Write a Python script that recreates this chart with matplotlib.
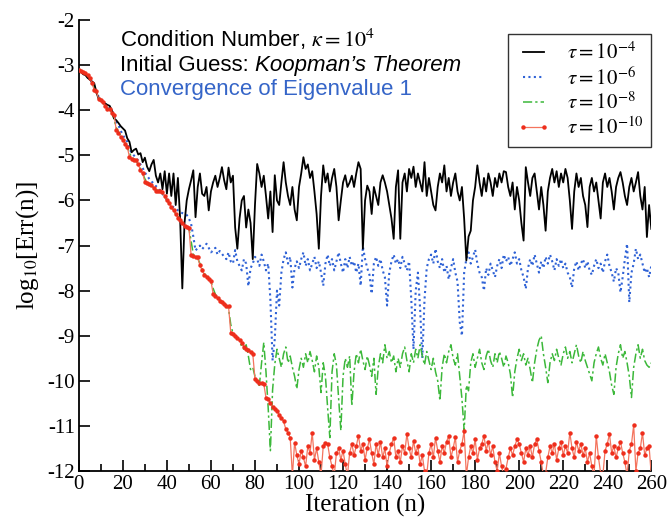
import numpy as np
import matplotlib
matplotlib.use("Agg")
import matplotlib.pyplot as plt
from matplotlib.ticker import MultipleLocator, FixedLocator

plt.rcParams['axes.unicode_minus'] = False
plt.rcParams['mathtext.fontset'] = 'stix'

# ---------------- data ----------------
tau_labels = [r'$\tau = 10^{-4}$', r'$\tau = 10^{-6}$', r'$\tau = 10^{-8}$', r'$\tau = 10^{-10}$']

err_tau4 = [
    -3.10,-3.15,-3.20,-3.22,-3.28,-3.32,-3.36,-3.40,-3.60,-3.75,
    -3.78,-3.82,-3.85,-3.88,-3.90,-4.00,-4.18,-4.22,-4.28,-4.35,
    -4.40,-4.45,-4.62,-4.70,-4.93,-4.88,-4.85,-4.98,-4.95,-5.15,
    -5.05,-5.25,-5.35,-5.20,-5.10,-5.45,-5.60,-5.40,-5.75,-5.35,
    -5.85,-5.40,-5.90,-5.40,-6.10,-5.50,-6.40,-7.95,-6.50,-6.00,
    -5.75,-5.55,-5.33,-6.37,-5.70,-5.40,-5.85,-5.90,-5.70,-6.22,
    -5.80,-5.60,-5.45,-5.70,-5.50,-5.26,-5.55,-5.75,-5.27,-5.60,
    -5.45,-6.60,-7.07,-6.40,-6.00,-5.90,-6.60,-6.20,-6.50,-7.30,
    -6.10,-5.19,-5.40,-5.70,-5.45,-5.90,-6.40,-5.80,-6.70,-5.44,
    -6.00,-6.10,-5.60,-5.15,-5.60,-5.90,-6.10,-5.70,-6.20,-6.44,
    -5.70,-5.40,-5.04,-5.30,-5.20,-5.50,-5.35,-5.80,-6.30,-7.07,
    -5.90,-5.22,-5.60,-5.40,-5.80,-5.50,-5.30,-5.70,-6.44,-6.00,
    -5.60,-5.44,-5.70,-5.60,-5.45,-5.70,-5.40,-5.15,-5.30,-7.07,
    -6.00,-5.67,-5.80,-6.30,-5.70,-5.90,-6.10,-5.60,-5.44,-5.60,
    -5.80,-6.10,-6.40,-6.85,-5.70,-5.33,-6.85,-5.60,-5.40,-5.80,
    -5.30,-5.50,-5.25,-5.70,-5.40,-5.60,-5.80,-5.15,-5.90,-5.50,
    -5.80,-6.10,-6.22,-5.70,-5.40,-5.60,-5.22,-5.80,-5.50,-5.90,
    -5.60,-5.40,-5.80,-6.00,-5.70,-6.40,-7.33,-6.80,-6.67,-6.00,
    -5.70,-5.22,-5.60,-5.90,-5.50,-5.80,-5.40,-5.60,-5.90,-5.50,
    -5.70,-5.40,-5.60,-5.35,-5.37,-5.70,-5.90,-5.60,-6.20,-5.70,
    -6.00,-6.50,-6.89,-5.26,-5.60,-5.90,-5.50,-5.40,-5.80,-6.20,
    -5.70,-6.10,-6.67,-5.80,-5.50,-5.30,-5.60,-5.35,-5.70,-5.40,
    -5.60,-5.30,-5.50,-6.00,-6.63,-5.80,-5.40,-5.70,-5.50,-5.90,
    -6.10,-6.59,-5.70,-5.50,-5.80,-5.60,-6.00,-6.40,-5.60,-5.40,
    -5.70,-5.50,-5.80,-6.20,-5.70,-5.50,-5.37,-5.60,-5.90,-6.10,
    -5.70,-5.50,-5.80,-5.60,-5.37,-5.90,-6.20,-5.70,-6.81,-6.10,
    -6.63,
]

err_tau6 = [
    -3.10,-3.14,-3.18,-3.22,-3.27,-3.32,-3.38,-3.48,-3.58,-3.70,
    -3.76,-3.82,-3.86,-3.90,-3.94,-4.00,-4.12,-4.25,-4.33,-4.45,
    -4.55,-4.62,-4.70,-4.85,-4.95,-5.00,-5.05,-5.12,-5.20,-5.28,
    -5.38,-5.45,-5.52,-5.58,-5.62,-5.68,-5.72,-5.78,-5.85,-5.92,
    -5.98,-6.04,-6.10,-6.15,-6.18,-6.22,-6.25,-6.28,-6.30,-6.32,
    -6.40,-6.52,-6.80,-7.11,-7.05,-7.00,-7.08,-7.02,-6.96,-7.05,
    -7.15,-7.11,-7.05,-7.20,-7.12,-7.18,-7.25,-7.30,-7.15,-7.35,
    -7.40,-7.10,-7.35,-7.45,-7.55,-7.30,-7.40,-7.90,-7.50,-7.40,
    -7.25,-7.30,-7.45,-7.20,-7.35,-7.55,-7.40,-8.20,-9.55,-9.07,
    -8.00,-8.33,-7.60,-7.30,-7.15,-7.40,-7.25,-7.93,-7.50,-7.35,
    -7.50,-7.30,-7.15,-7.45,-7.30,-7.55,-7.40,-7.25,-7.50,-7.35,
    -7.60,-7.89,-7.40,-7.20,-7.45,-7.30,-7.55,-7.35,-7.15,-7.40,
    -7.60,-7.30,-7.50,-7.25,-7.45,-7.35,-7.60,-7.40,-7.89,-7.02,
    -7.30,-7.50,-7.65,-8.07,-7.40,-7.25,-7.45,-7.30,-7.55,-7.70,
    -8.33,-7.60,-7.35,-7.20,-7.40,-7.30,-7.50,-7.25,-7.40,-7.55,
    -7.35,-8.20,-9.30,-8.00,-7.60,-8.40,-9.50,-8.20,-7.50,-7.30,
    -7.20,-7.40,-7.07,-7.35,-7.50,-7.30,-7.60,-7.45,-7.75,-7.50,
    -7.30,-7.60,-7.80,-8.70,-9.00,-7.60,-7.30,-7.15,-7.40,-7.25,
    -7.09,-7.40,-7.60,-7.70,-8.00,-7.50,-7.65,-7.40,-7.55,-7.70,
    -7.45,-7.30,-7.50,-7.20,-7.35,-7.25,-7.45,-7.30,-7.15,-7.40,
    -7.30,-7.55,-7.70,-7.96,-7.50,-7.30,-7.45,-7.20,-7.40,-7.60,
    -7.35,-7.50,-7.25,-7.40,-7.20,-7.35,-7.55,-7.30,-7.45,-7.30,
    -7.50,-7.40,-7.60,-7.70,-7.93,-7.50,-7.35,-7.55,-7.40,-7.30,
    -7.50,-7.35,-7.55,-7.65,-7.45,-7.30,-7.50,-7.40,-7.60,-7.35,
    -7.20,-7.45,-7.60,-7.80,-7.50,-7.60,-8.04,-7.70,-7.30,-6.96,
    -8.26,-7.60,-7.40,-7.07,-7.30,-7.20,-7.40,-7.60,-7.50,-7.70,
    -7.45,
]

err_tau8 = [
    -3.10,-3.13,-3.16,-3.20,-3.25,-3.30,-3.38,-3.50,-3.60,-3.70,
    -3.78,-3.84,-3.90,-3.95,-4.00,-4.05,-4.20,-4.38,-4.48,-4.56,
    -4.64,-4.72,-4.80,-4.95,-5.04,-5.08,-5.12,-5.20,-5.30,-5.40,
    -5.52,-5.60,-5.63,-5.66,-5.72,-5.76,-5.78,-5.80,-5.84,-5.92,
    -6.00,-6.06,-6.14,-6.22,-6.30,-6.36,-6.42,-6.48,-6.54,-6.58,
    -6.62,-6.90,-7.20,-7.24,-7.28,-7.40,-7.52,-7.62,-7.68,-7.73,
    -7.80,-7.95,-8.08,-8.15,-8.20,-8.24,-8.28,-8.32,-8.40,-8.75,
    -8.95,-9.00,-9.05,-9.10,-9.25,-9.30,-9.20,-9.45,-9.75,-9.70,
    -9.90,-10.05,-10.10,-9.60,-9.15,-9.80,-10.60,-11.55,-10.20,-9.63,
    -9.30,-9.50,-9.70,-9.40,-9.25,-9.60,-9.45,-9.70,-9.90,-10.18,
    -9.75,-9.50,-9.70,-9.40,-9.60,-9.35,-9.55,-9.80,-9.45,-9.70,
    -10.26,-9.60,-9.90,-10.60,-11.26,-9.80,-9.40,-9.65,-10.40,-11.10,
    -9.90,-9.50,-9.70,-9.45,-10.55,-9.80,-9.40,-9.60,-9.30,-9.55,
    -9.75,-9.45,-9.65,-9.90,-9.50,-10.30,-9.70,-9.40,-9.60,-9.20,
    -9.50,-9.35,-9.60,-9.45,-9.80,-9.50,-9.70,-9.40,-9.25,-9.55,
    -9.80,-9.40,-9.60,-9.30,-9.50,-9.20,-9.45,-9.65,-9.35,-9.55,
    -9.75,-9.50,-9.80,-10.00,-10.44,-9.70,-9.40,-9.60,-9.35,-9.20,
    -9.50,-9.65,-9.40,-9.90,-10.40,-11.10,-10.10,-10.22,-9.60,-9.40,
    -9.70,-9.50,-9.30,-9.60,-9.75,-9.45,-9.30,-9.55,-9.70,-9.40,
    -9.60,-9.35,-9.50,-9.70,-9.45,-9.60,-9.85,-10.37,-9.80,-9.50,
    -9.30,-9.55,-9.40,-9.65,-9.50,-9.75,-10.04,-9.60,-9.30,-9.10,
    -9.00,-9.40,-9.70,-10.04,-9.60,-9.40,-9.55,-9.30,-9.50,-9.65,
    -9.40,-9.25,-9.50,-9.35,-9.60,-9.40,-9.20,-9.45,-9.60,-9.35,
    -9.55,-9.70,-9.85,-10.00,-9.60,-9.40,-9.25,-9.50,-9.65,-9.40,
    -9.60,-9.80,-10.10,-10.30,-9.70,-9.40,-9.20,-9.50,-9.35,-9.60,
    -9.90,-10.37,-9.70,-9.40,-9.20,-9.50,-9.30,-9.55,-9.65,-9.70,
    -9.60,
]

err_tau10 = [
    -3.10,-3.12,-3.15,-3.18,-3.22,-3.28,-3.40,-3.55,-3.58,-3.75,
    -3.78,-3.82,-3.90,-3.96,-3.98,-4.05,-4.10,-4.44,-4.50,-4.59,
    -4.65,-4.75,-4.81,-5.04,-5.07,-5.10,-5.11,-5.20,-5.33,-5.40,
    -5.59,-5.61,-5.63,-5.65,-5.72,-5.78,-5.79,-5.80,-5.81,-5.90,
    -6.00,-6.05,-6.15,-6.22,-6.30,-6.38,-6.44,-6.50,-6.56,-6.58,
    -6.60,-7.22,-7.24,-7.25,-7.26,-7.44,-7.55,-7.65,-7.70,-7.74,
    -7.78,-8.07,-8.12,-8.17,-8.22,-8.26,-8.30,-8.33,-8.35,-8.93,
    -8.97,-9.00,-9.05,-9.10,-9.15,-9.25,-9.30,-9.32,-9.37,-9.40,
    -9.96,-10.00,-10.04,-10.05,-10.07,-10.37,-10.40,-10.50,-10.58,-10.62,
    -10.67,-10.75,-10.82,-10.90,-11.07,-11.15,-11.26,-12.10,-11.37,-11.65,
    -11.85,-11.55,-11.70,-11.90,-11.45,-11.60,-11.15,-11.75,-11.50,-11.80,
    -12.10,-11.45,-11.37,-11.40,-11.70,-11.90,-12.10,-11.60,-11.50,-11.75,
    -11.55,-11.85,-12.10,-11.60,-11.40,-11.65,-11.45,-11.22,-11.55,-11.40,
    -11.75,-11.50,-11.30,-11.60,-11.85,-11.40,-11.65,-11.35,-11.70,-11.50,
    -11.90,-11.60,-11.40,-11.26,-11.70,-11.55,-11.80,-11.45,-11.60,-11.18,
    -11.50,-11.70,-11.33,-11.60,-11.45,-11.85,-11.65,-12.00,-12.10,-11.60,
    -11.40,-11.70,-11.26,-11.55,-11.80,-11.45,-11.60,-11.35,-11.22,-11.70,
    -11.50,-11.25,-11.80,-11.55,-11.40,-11.11,-12.10,-11.70,-11.45,-11.60,
    -11.30,-11.75,-11.50,-11.40,-11.22,-11.55,-11.35,-11.65,-11.45,-11.80,
    -12.00,-11.60,-11.90,-12.10,-11.95,-11.70,-11.50,-11.65,-11.45,-11.30,
    -11.40,-11.60,-11.80,-11.50,-11.65,-11.45,-11.70,-11.40,-11.30,-11.55,
    -11.80,-12.10,-12.05,-11.70,-11.45,-11.60,-11.40,-11.75,-11.50,-11.35,
    -11.65,-11.45,-11.60,-11.15,-11.50,-11.70,-11.35,-11.55,-11.40,-11.65,
    -11.50,-11.80,-11.60,-11.90,-12.10,-11.22,-11.70,-12.05,-12.10,-11.55,
    -11.40,-11.18,-11.60,-11.45,-11.70,-11.50,-11.35,-11.60,-11.80,-12.10,
    -11.55,-11.40,-10.98,-12.00,-11.60,-11.50,-11.15,-11.65,-11.50,-11.45,
    -12.10,
]

xticks = [0, 20, 40, 60, 80, 100, 120, 140, 160, 180, 200, 220, 240, 260]
yticks = [-12, -11, -10, -9, -8, -7, -6, -5, -4, -3, -2]

# ---------------- figure ----------------
fig = plt.figure(figsize=(6.68, 5.17), dpi=100)
ax = fig.add_axes([0.118, 0.089, 0.857, 0.872])

serif = ['Liberation Serif', 'DejaVu Serif']
sans = ['Liberation Sans', 'DejaVu Sans']

ax.plot(np.arange(len(err_tau4)), err_tau4, color='black', lw=1.3, label=tau_labels[0], zorder=3)
ax.plot(np.arange(len(err_tau6)), err_tau6, color='#2f62d6', lw=1.5, ls=(0, (1, 1.6)), label=tau_labels[1], zorder=2)
ax.plot(np.arange(len(err_tau8)), err_tau8, color='#3cb83a', lw=1.1, ls=(0, (6, 2, 1.5, 2)), label=tau_labels[2], zorder=2)
ax.plot(np.arange(len(err_tau10)), err_tau10, color='#f4745e', lw=0.9, marker='o', ms=2.2,
        mfc='#ee2e1c', mec='#ee2e1c', label=tau_labels[3], zorder=4)

ax.set_xlim(0, 260)
ax.set_ylim(-12, -2)
ax.xaxis.set_major_locator(FixedLocator(xticks))
ax.xaxis.set_minor_locator(MultipleLocator(10))
ax.yaxis.set_major_locator(FixedLocator(yticks))
ax.set_xticklabels([str(t) for t in xticks], fontfamily=serif, fontsize=15)
ax.set_yticklabels([str(t) for t in yticks], fontfamily=serif, fontsize=15)
ax.tick_params(axis='both', which='major', direction='in', length=8, width=1.2, pad=3, colors='black')
ax.tick_params(axis='x', which='minor', direction='in', length=5, width=1.2)
for s in ['top', 'right']:
    ax.spines[s].set_visible(False)
for s in ['left', 'bottom']:
    ax.spines[s].set_linewidth(1.3)

ax.set_xlabel('Iteration (n)', fontfamily=serif, fontsize=18, labelpad=0)
ax.set_ylabel(r'log$_{10}$[Err(n)]', fontfamily=serif, fontsize=18, labelpad=4)

leg = ax.legend(loc='upper right', bbox_to_anchor=(1.0, 0.969), borderaxespad=0,
                prop={'family': serif, 'size': 15}, handlelength=1.6, labelspacing=0.15,
                fancybox=False, edgecolor='#333333', framealpha=1, numpoints=2,
                borderpad=0.4, handletextpad=0.8)
leg.get_frame().set_linewidth(1.0)

# ---------------- annotation text ----------------
fig.text(120 / 668, 1 - 47 / 517, r'Condition Number, $\kappa = 10^4$', fontfamily=sans,
         fontsize=16, color='black', va='baseline')
t2 = fig.text(120 / 668, 1 - 71 / 517, "Initial Guess: ", fontfamily=sans,
              fontsize=16, color='black', va='baseline')
fig.canvas.draw()
bb = t2.get_window_extent(renderer=fig.canvas.get_renderer())
fig.text(bb.x1 / fig.bbox.width, 1 - 71 / 517, "Koopman\u2019s Theorem", fontfamily=sans,
         fontsize=16, style='italic', color='black', va='baseline')
fig.text(120 / 668, 1 - 95 / 517, 'Convergence of Eigenvalue 1', fontfamily=sans,
         fontsize=16, color='#3565c8', va='baseline')

fig.savefig('out.png', dpi=100)
